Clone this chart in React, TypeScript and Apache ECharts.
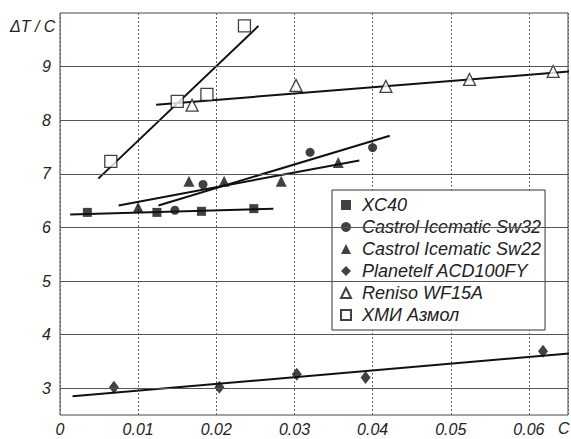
import React, { useEffect, useRef } from "react";
import * as echarts from "echarts";

// Measured data (C, ΔT/C)
const xc40X = [0.0035, 0.0124, 0.0181, 0.0248];
const xc40Y = [6.28, 6.28, 6.3, 6.35];
const sw32X = [0.0147, 0.0183, 0.032, 0.04];
const sw32Y = [6.32, 6.8, 7.4, 7.49];
const sw22X = [0.01, 0.0165, 0.021, 0.0283, 0.0356];
const sw22Y = [6.37, 6.86, 6.86, 6.86, 7.21];
const planX = [0.0069, 0.0204, 0.0303, 0.0391, 0.0618];
const planY = [3.02, 3.02, 3.26, 3.2, 3.69];
const renX = [0.0169, 0.0302, 0.0417, 0.0524, 0.0631];
const renY = [8.28, 8.65, 8.63, 8.76, 8.91];
const hmiX = [0.0065, 0.015, 0.0188, 0.0236];
const hmiY = [7.23, 8.35, 8.48, 9.76];

// Fitted line end points
const xc40FitX = [0.0013, 0.0273];
const xc40FitY = [6.24, 6.35];
const sw32FitX = [0.0126, 0.0422];
const sw32FitY = [6.41, 7.71];
const sw22FitX = [0.0075, 0.0383];
const sw22FitY = [6.41, 7.25];
const planFitX = [0.0016, 0.0654];
const planFitY = [2.85, 3.65];
const renFitX = [0.0123, 0.0654];
const renFitY = [8.29, 8.91];
const hmiFitX = [0.0049, 0.0254];
const hmiFitY = [6.91, 9.76];

const seriesNames = [
  "XC40",
  "Castrol Icematic Sw32",
  "Castrol Icematic Sw22",
  "Planetelf ACD100FY",
  "Reniso WF15A",
  "ХМИ Азмол",
];

const yGridTicks = [3, 4, 5, 6, 7, 8, 9];
const yLabelTicks = [3, 4, 5, 6, 7, 8, 9];

const FONT = "Liberation Sans";

const zip = (xs: number[], ys: number[]) => xs.map((x, i) => [x, ys[i]]);

export default function App() {
  const ref = useRef<HTMLDivElement>(null);
  useEffect(() => {
    if (!ref.current) return;
    const chart = echarts.init(ref.current, undefined, { renderer: "svg" });

    const filled = { color: "#111", borderColor: "#111", borderWidth: 0 };
    const hollow = { color: "#fff", borderColor: "#111", borderWidth: 1.3 };

    const scatter = (name: string, xs: number[], ys: number[], symbol: string, size: any, style: any) => ({
      type: "scatter",
      name,
      data: zip(xs, ys),
      symbol,
      symbolSize: size,
      itemStyle: style,
      z: 4,
    });
    const fit = (xs: number[], ys: number[]) => ({
      type: "line",
      data: zip(xs, ys),
      symbol: "none",
      lineStyle: { color: "#111", width: 2 },
      z: 3,
      silent: true,
    });

    chart.setOption({
      animation: false,
      backgroundColor: "#fff",
      grid: {
        left: 60,
        right: 3,
        top: 13,
        bottom: 24,
        show: true,
        borderColor: "#444",
        borderWidth: 1,
      },
      xAxis: {
        type: "value",
        min: 0,
        max: 0.065,
        interval: 0.01,
        axisLine: { show: false },
        axisTick: { show: false },
        splitLine: { show: true, lineStyle: { color: "#666", type: [2, 2], width: 1 } },
        axisLabel: {
          margin: 6,
          color: "#222",
          fontFamily: FONT,
          fontStyle: "italic",
          fontSize: 16,
          formatter: (v: number) => {
            if (v > 0.0625) return "";
            if (v === 0) return "0";
            return v.toFixed(2);
          },
        },
      },
      yAxis: {
        type: "value",
        min: 2.5,
        max: 10,
        interval: 0.5,
        axisLine: { show: false },
        axisTick: { show: false },
        splitLine: { show: false },
        axisLabel: {
          margin: 9,
          color: "#222",
          fontFamily: FONT,
          fontStyle: "italic",
          fontSize: 16,
          formatter: (v: number) => (yLabelTicks.indexOf(v) >= 0 ? String(v) : ""),
        },
      },
      legend: {
        data: seriesNames,
        orient: "vertical",
        left: 332,
        top: 190,
        padding: [6, 4, 6, 8],
        itemWidth: 10,
        itemHeight: 10,
        itemGap: 4,
        backgroundColor: "#fff",
        borderColor: "#333",
        borderWidth: 1,
        borderRadius: 0,
        textStyle: {
          fontFamily: FONT,
          fontStyle: "italic",
          fontSize: 18,
          color: "#222",
          padding: [0, 0, 0, 6],
        },
      },
      graphic: [
        {
          type: "text",
          left: 10,
          top: 18,
          style: { text: "ΔT / C", font: `italic 16px "${FONT}"`, fill: "#222" },
        },
        {
          type: "text",
          left: 558,
          top: 420,
          style: { text: "C", font: `italic 16px "${FONT}"`, fill: "#222" },
        },
      ],
      series: [
        {
          type: "line",
          data: [],
          silent: true,
          markLine: {
            silent: true,
            symbol: ["none", "none"],
            label: { show: false },
            lineStyle: { color: "#555", type: "solid", width: 1 },
            data: yGridTicks.map((v) => ({ yAxis: v })),
          },
          z: 1,
        },
        fit(xc40FitX, xc40FitY),
        fit(sw32FitX, sw32FitY),
        fit(sw22FitX, sw22FitY),
        fit(planFitX, planFitY),
        fit(renFitX, renFitY),
        fit(hmiFitX, hmiFitY),
        scatter(seriesNames[0], xc40X, xc40Y, "rect", 9, filled),
        scatter(seriesNames[1], sw32X, sw32Y, "circle", 9, filled),
        scatter(seriesNames[2], sw22X, sw22Y, "triangle", 11, filled),
        scatter(seriesNames[3], planX, planY, "diamond", [10, 13], filled),
        scatter(seriesNames[4], renX, renY, "triangle", 12, hollow),
        scatter(seriesNames[5], hmiX, hmiY, "rect", 12, hollow),
      ],
    });
    return () => chart.dispose();
  }, []);
  return (
    <div
      ref={ref}
      style={{ position: "fixed", left: 0, top: 0, width: 571, height: 439, background: "#fff" }}
    />
  );
}
